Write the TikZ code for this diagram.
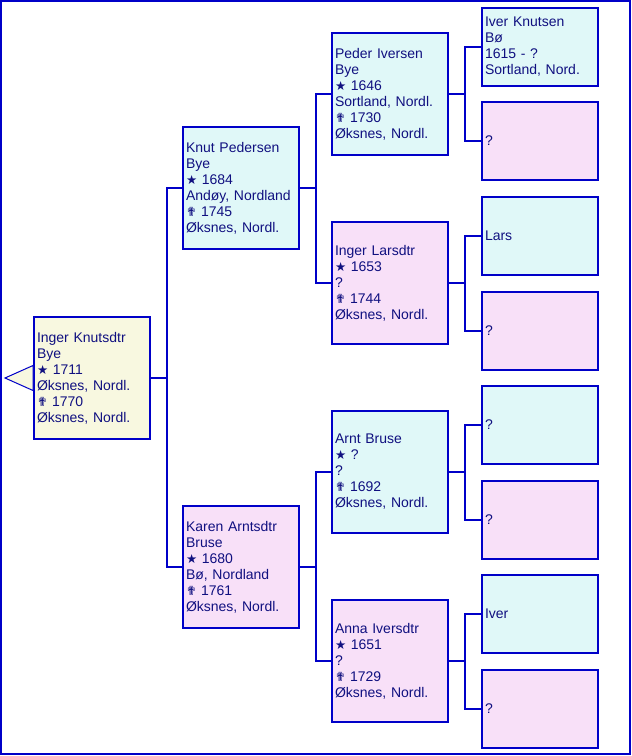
\documentclass[tikz,border=0pt]{standalone}
\usepackage{fontspec}
\setmainfont{Liberation Sans}
\newfontfamily\symfont{DejaVu Sans}
\newcommand\bornsym{{\symfont\fontsize{12.5}{16}\selectfont ★}}
\newcommand\diedsym{{\symfont\fontsize{12.5}{16}\selectfont ✟}}
\definecolor{bordercol}{RGB}{0,0,200}
\definecolor{textcol}{RGB}{16,16,128}
\definecolor{malefill}{RGB}{224,248,248}
\definecolor{femalefill}{RGB}{248,224,248}
\definecolor{rootfill}{RGB}{248,248,224}
\tikzset{
  person/.style={draw=bordercol, line width=2pt, minimum width=116pt, text width=110pt,
    inner xsep=3pt, inner ysep=0pt, align=left, text=textcol,
    font=\fontsize{14}{16}\selectfont, anchor=center},
  bigbox/.style={person, minimum height=122pt},
  smallbox/.style={person, minimum height=78pt},
  male/.style={fill=malefill},
  female/.style={fill=femalefill},
  rootbox/.style={fill=rootfill},
  link/.style={draw=bordercol, line width=2pt},
}
\begin{document}
\begin{tikzpicture}[x=1pt,y=-1pt]
\useasboundingbox (0,0) rectangle (632,756);
\draw[bordercol, line width=2.5pt] (1.2,1.2) rectangle (629.8,753.8);

% root
\node[bigbox, rootbox] (root) at (92,378) {Inger Knutsdtr\\Bye\\\bornsym\ 1711\\Øksnes, Nordl.\\\diedsym\ 1770\\Øksnes, Nordl.};
\draw[bordercol, fill=rootfill, line width=1pt] (5,378) -- (33,365.5) -- (33,390.5) -- cycle;

% generation 1
\node[bigbox, male] (f) at (241,188) {Knut Pedersen\\Bye\\\bornsym\ 1684\\Andøy, Nordland\\\diedsym\ 1745\\Øksnes, Nordl.};
\node[bigbox, female] (m) at (241,567) {Karen Arntsdtr\\Bruse\\\bornsym\ 1680\\Bø, Nordland\\\diedsym\ 1761\\Øksnes, Nordl.};

% generation 2
\node[bigbox, male] (ff) at (390,94) {Peder Iversen\\Bye\\\bornsym\ 1646\\Sortland, Nordl.\\\diedsym\ 1730\\Øksnes, Nordl.};
\node[bigbox, female] (fm) at (390,283) {Inger Larsdtr\\\bornsym\ 1653\\?\\\diedsym\ 1744\\Øksnes, Nordl.};
\node[bigbox, male] (mf) at (390,472) {Arnt Bruse\\\bornsym\ ?\\?\\\diedsym\ 1692\\Øksnes, Nordl.};
\node[bigbox, female] (mm) at (390,661) {Anna Iversdtr\\\bornsym\ 1651\\?\\\diedsym\ 1729\\Øksnes, Nordl.};

% generation 3
\node[smallbox, male] (fff) at (540,47) {Iver Knutsen\\Bø\\1615 - ?\\Sortland, Nord.};
\node[smallbox, female] (ffm) at (540,141) {?};
\node[smallbox, male] (fmf) at (540,236) {Lars};
\node[smallbox, female] (fmm) at (540,331) {?};
\node[smallbox, male] (mff) at (540,425) {?};
\node[smallbox, female] (mfm) at (540,520) {?};
\node[smallbox, male] (mmf) at (540,614) {Iver};
\node[smallbox, female] (mmm) at (540,709) {?};

% junctions
\coordinate (j0) at (167,378);
\coordinate (jf) at (316,188);
\coordinate (jm) at (316,567);
\coordinate (jff) at (465,94);
\coordinate (jfm) at (465,283);
\coordinate (jmf) at (465,472);
\coordinate (jmm) at (465,661);

% connectors
\draw[link] (root.east) -- (j0);
\draw[link] (f.west) -| (j0);
\draw[link] (m.west) -| (j0);

\draw[link] (f.east) -- (jf);
\draw[link] (ff.west) -| (jf);
\draw[link] (fm.west) -| (jf);
\draw[link] (m.east) -- (jm);
\draw[link] (mf.west) -| (jm);
\draw[link] (mm.west) -| (jm);

\draw[link] (ff.east) -- (jff);
\draw[link] (fff.west) -| (jff);
\draw[link] (ffm.west) -| (jff);
\draw[link] (fm.east) -- (jfm);
\draw[link] (fmf.west) -| (jfm);
\draw[link] (fmm.west) -| (jfm);
\draw[link] (mf.east) -- (jmf);
\draw[link] (mff.west) -| (jmf);
\draw[link] (mfm.west) -| (jmf);
\draw[link] (mm.east) -- (jmm);
\draw[link] (mmf.west) -| (jmm);
\draw[link] (mmm.west) -| (jmm);
\end{tikzpicture}
\end{document}
